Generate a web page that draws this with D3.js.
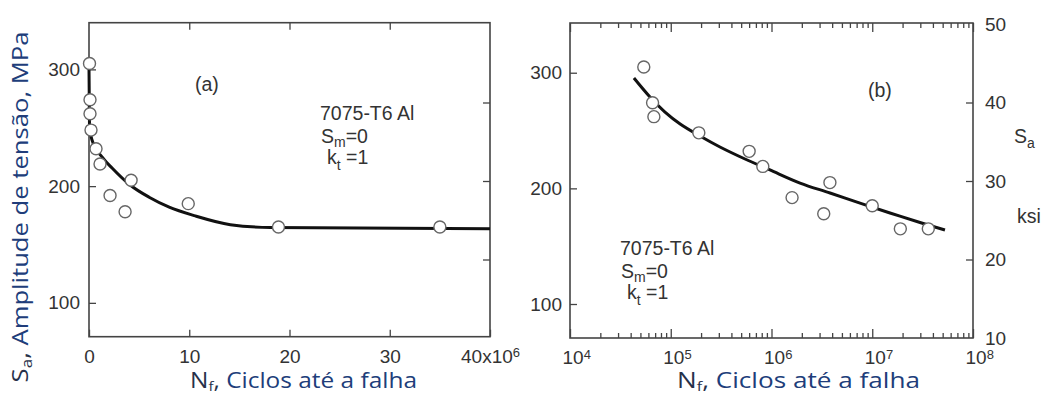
<!DOCTYPE html>
<html>
<head>
<meta charset="utf-8">
<title>7075-T6 Al S-N</title>
<script src="https://d3js.org/d3.v7.min.js"></script>
<style>
  body { margin: 0; background: #fff; }
  svg { display: block; }
  .tick text { font-family: "Liberation Sans", Arial, sans-serif; font-size: 19px; fill: #333; }
  .tick line { stroke: #444; stroke-width: 1.3; }
  .note { font-family: "Liberation Sans", Arial, sans-serif; font-size: 19.5px; fill: #333; }
  .title { font-family: "Open Sans", sans-serif; font-size: 21px; fill: #203d7a; }
</style>
</head>
<body>
<svg id="chart" width="1047" height="396"></svg>
<script>
// test points (same 12 specimens in both panels)
const stressMPa    = [305, 274, 262, 248, 232, 219, 192, 178, 205, 185, 165, 165];
const cyclesLinear = [0.05e6, 0.1e6, 0.1e6, 0.2e6, 0.7e6, 1.1e6, 2.1e6, 3.6e6, 4.2e6, 9.9e6, 18.9e6, 35.0e6];
const cyclesLog    = [5.4e4, 6.6e4, 6.8e4, 1.9e5, 6.0e5, 8.2e5, 1.6e6, 3.3e6, 3.8e6, 1.0e7, 1.9e7, 3.6e7];

// fitted curve
const fitLinearN = [0, 0.05e6, 0.3e6, 1.4e6, 2.3e6, 4.1e6, 6.0e6, 8.0e6, 10.6e6, 14.1e6, 18.1e6, 40e6];
const fitLinearS = [301, 251, 239.5, 224, 215.5, 201, 190.5, 182, 174.5, 167, 164.5, 163.5];
const fitLogN = [4.31e4, 6.22e4, 8.77e4, 1.24e5, 1.95e5, 3.08e5, 5.46e5, 9.66e5, 1.92e6, 3.81e6, 7.56e6, 1.50e7, 2.98e7, 5.27e7];
const fitLogS = [295.4, 279.0, 266.0, 255.7, 245.3, 235.8, 225.4, 215.9, 204.6, 196.0, 187.3, 178.7, 170.5, 164.0];

// ticks
const mpaTicks = [100, 200, 300];
const ksiTicks = [10, 20, 30, 40, 50];
const ksiInner = [20, 30, 40];
const linTicks = [0, 10e6, 20e6, 30e6, 40e6];
const logMajor = [1e4, 1e5, 1e6, 1e7, 1e8];
const logMinor = [1e4, 1e5, 1e6, 1e7].flatMap(d => d3.range(2, 10).map(m => m * d));

const svg = d3.select("#chart");

// scales
const xA = d3.scaleLinear().domain([0, 40e6]).range([89, 490]);
const yA = d3.scaleLinear().domain([71, 340]).range([336.7, 22.7]);
const xB = d3.scaleLog().domain([1e4, 1e8]).range([570, 973]);
const yB = d3.scaleLinear().domain([70.6, 343]).range([338, 23]);
const ksi = d3.scaleLinear().domain([10, 50]).range([338, 24]);

function noDomain(g) { g.select(".domain").remove(); }

function frame(x, y) {
  svg.append("rect")
    .attr("x", x.range()[0]).attr("y", y.range()[1])
    .attr("width", x.range()[1] - x.range()[0])
    .attr("height", y.range()[0] - y.range()[1])
    .attr("fill", "none").attr("stroke", "#444").attr("stroke-width", 1.6);
}

// scale a text group along its own direction to a target length
function stretch(g, target) {
  const w = g.node().getBBox().width;
  const t = g.attr("transform") || "";
  g.attr("transform", t + ` scale(${target / w},1)`);
}

// ---------- panel (a) ----------
frame(xA, yA);

svg.append("g").attr("transform", `translate(0,${yA.range()[0]})`)
  .call(d3.axisBottom(xA).tickValues(linTicks).tickSizeInner(-7).tickSizeOuter(0).tickPadding(13)
    .tickFormat(d => d === 40e6 ? "40x10" : d / 1e6))
  .call(noDomain)
  .call(g => g.selectAll(".tick text").filter(d => d === 40e6)
    .append("tspan").attr("dy", "-0.45em").attr("font-size", "13px").text("6"));

svg.append("g").attr("transform", `translate(0,${yA.range()[1]})`)
  .call(d3.axisTop(xA).tickValues(linTicks.slice(1, 4)).tickSizeInner(-7).tickSizeOuter(0).tickFormat(""))
  .call(noDomain);

svg.append("g").attr("transform", `translate(${xA.range()[0]},0)`)
  .call(d3.axisLeft(yA).tickValues(mpaTicks).tickSizeInner(-7).tickSizeOuter(0).tickPadding(9))
  .call(noDomain);

svg.append("g").attr("transform", `translate(${xA.range()[1]},0)`)
  .call(d3.axisRight(ksi).tickValues(ksiInner).tickSizeInner(-7).tickSizeOuter(0).tickFormat(""))
  .call(noDomain);

svg.append("path")
  .datum(d3.zip(fitLinearN, fitLinearS))
  .attr("fill", "none").attr("stroke", "#111").attr("stroke-width", 3)
  .attr("d", d3.line().x(d => xA(d[0])).y(d => yA(d[1])).curve(d3.curveMonotoneX));

svg.append("g").selectAll("circle")
  .data(d3.zip(cyclesLinear, stressMPa))
  .join("circle")
  .attr("cx", d => xA(d[0])).attr("cy", d => yA(d[1])).attr("r", 6)
  .attr("fill", "#fff").attr("stroke", "#666").attr("stroke-width", 1.4);

svg.append("text").attr("class", "note").attr("x", 195).attr("y", 91).text("(a)");

function materialNote(x, y) {
  svg.append("text").attr("class", "note").attr("x", x).attr("y", y).text("7075-T6 Al");
  const s = svg.append("text").attr("class", "note").attr("x", x + 1).attr("y", y + 23);
  s.append("tspan").text("S");
  s.append("tspan").attr("dy", 4).attr("font-size", "14px").text("m");
  s.append("tspan").attr("dy", -4).text("=0");
  const k = svg.append("text").attr("class", "note").attr("x", x + 7).attr("y", y + 44);
  k.append("tspan").text("k");
  k.append("tspan").attr("dy", 6).attr("font-size", "14px").text("t");
  k.append("tspan").attr("dy", -6).text(" =1");
}
materialNote(320, 120);

// ---------- panel (b) ----------
frame(xB, yB);

const logLabel = g => g.selectAll(".tick text").each(function (d) {
  const t = d3.select(this).attr("text-anchor", "start").attr("x", -8);
  t.append("tspan").text("10");
  t.append("tspan").attr("dy", "-0.45em").attr("font-size", "13px").text(Math.round(Math.log10(d)));
});

svg.append("g").attr("transform", `translate(0,${yB.range()[0]})`)
  .call(d3.axisBottom(xB).tickValues(logMinor).tickSizeInner(-5).tickSizeOuter(0).tickFormat(""))
  .call(noDomain);
svg.append("g").attr("transform", `translate(0,${yB.range()[0]})`)
  .call(d3.axisBottom(xB).tickValues(logMajor).tickSizeInner(-9).tickSizeOuter(0).tickPadding(13).tickFormat(() => ""))
  .call(noDomain).call(logLabel);

svg.append("g").attr("transform", `translate(0,${yB.range()[1]})`)
  .call(d3.axisTop(xB).tickValues(logMinor).tickSizeInner(-5).tickSizeOuter(0).tickFormat(""))
  .call(noDomain);
svg.append("g").attr("transform", `translate(0,${yB.range()[1]})`)
  .call(d3.axisTop(xB).tickValues(logMajor).tickSizeInner(-9).tickSizeOuter(0).tickFormat(""))
  .call(noDomain);

svg.append("g").attr("transform", `translate(${xB.range()[0]},0)`)
  .call(d3.axisLeft(yB).tickValues(mpaTicks).tickSizeInner(-7).tickSizeOuter(0).tickPadding(8))
  .call(noDomain);

svg.append("g").attr("transform", `translate(${xB.range()[1]},0)`)
  .call(d3.axisRight(ksi).tickValues(ksiTicks).tickSizeInner(-7).tickSizeOuter(0).tickPadding(12))
  .call(noDomain)
  .call(g => g.selectAll(".tick line").filter(d => d === 10 || d === 50).remove());

svg.append("path")
  .datum(d3.zip(fitLogN, fitLogS))
  .attr("fill", "none").attr("stroke", "#111").attr("stroke-width", 3)
  .attr("d", d3.line().x(d => xB(d[0])).y(d => yB(d[1])).curve(d3.curveCatmullRom));

svg.append("g").selectAll("circle")
  .data(d3.zip(cyclesLog, stressMPa))
  .join("circle")
  .attr("cx", d => xB(d[0])).attr("cy", d => yB(d[1])).attr("r", 6)
  .attr("fill", "#fff").attr("stroke", "#666").attr("stroke-width", 1.4);

svg.append("text").attr("class", "note").attr("x", 868).attr("y", 97).text("(b)");
materialNote(620, 255);

const sa = svg.append("text").attr("class", "note").attr("x", 1014).attr("y", 143);
sa.append("tspan").text("S");
sa.append("tspan").attr("dy", 5).attr("font-size", "14px").text("a");
svg.append("text").attr("class", "note").attr("x", 1017).attr("y", 223).text("ksi");

// ---------- axis titles ----------
function xTitle(cx, width) {
  const g = svg.append("g").attr("transform", `translate(${cx},388)`);
  const t = g.append("text").attr("class", "title").attr("text-anchor", "middle");
  t.append("tspan").attr("fill", "#27314a").text("N");
  t.append("tspan").attr("fill", "#27314a").attr("dy", 3).attr("font-size", "13px").text("f");
  t.append("tspan").attr("fill", "#27314a").attr("dy", -3).text(", ");
  t.append("tspan").text("Ciclos até a falha");
  stretch(g, width);
}
xTitle(303.5, 227);
xTitle(798.5, 243);

const yt = svg.append("g").attr("transform", "translate(28,207) rotate(-90)");
const ytText = yt.append("text").attr("class", "title").attr("text-anchor", "middle");
ytText.append("tspan").attr("fill", "#27314a").text("S");
ytText.append("tspan").attr("fill", "#27314a").attr("dy", 4).attr("font-size", "14px").text("a");
ytText.append("tspan").attr("fill", "#27314a").attr("dy", -4).text(", ");
ytText.append("tspan").text("Amplitude de tensão, MPa");
stretch(yt, 351);
</script>
</body>
</html>
